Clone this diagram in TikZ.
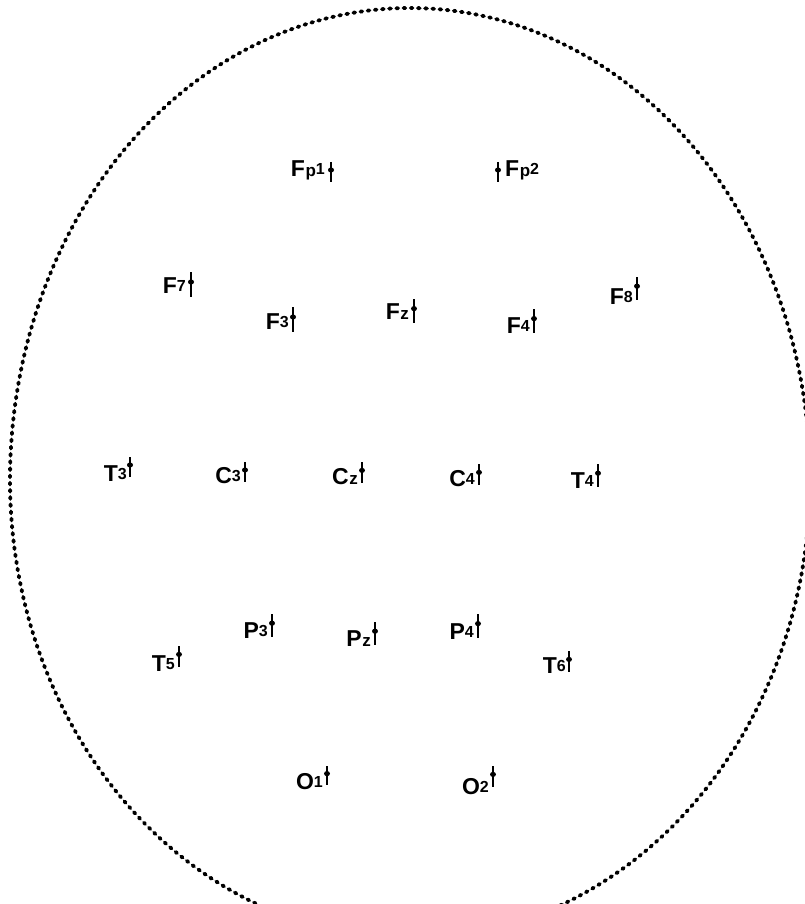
\documentclass[tikz,border=0pt]{standalone}
\usepackage{fontspec}
\setmainfont{Liberation Sans}
\newcommand\sfx[1]{{\fontsize{16}{18}\selectfont\raisebox{2pt}{#1}}}
\newcommand\sfz[1]{{\fontsize{17}{18}\selectfont\hspace{0.5pt}#1}}
\newcommand\elecmark[3]{%
  \draw[mk] (#1,#2) -- (#1,#3);
  \fill (#1,{#2+0.4*(#3-#2)}) ellipse (3pt and 2.6pt);}
\tikzset{
  lab/.style={inner sep=0pt, font=\fontsize{23}{26}\selectfont\bfseries},
  mk/.style={line width=2.2pt},
  outline/.style={line width=3.8pt, line cap=round, dash pattern=on 1.8pt off 5.4pt}
}
\begin{document}
\begin{tikzpicture}[x=1pt,y=-1pt]
\useasboundingbox (0,0) rectangle (805,904);
\begin{scope}
\clip (0,0) rectangle (805,904);
\draw[outline] plot[domain=0:360, samples=241, smooth]
  ({410+400*cos(\x)}, {480+(\x<180?459:472)*sin(\x)});
\end{scope}
% frontal pole
\node[lab, anchor=base east] (Fp1) at (325,177) {F\sfz{p}\sfx{1}};
\elecmark{331}{162}{182}
\node[lab, anchor=base west] (Fp2) at (505,177) {F\sfz{p}\sfx{2}};
\elecmark{498}{162}{182}
% frontal
\node[lab, anchor=base east] (F7) at (186,293) {F\sfx{7}};
\elecmark{191}{272}{297}
\node[lab, anchor=base east] (F3) at (289,329) {F\sfx{3}};
\elecmark{293}{307}{332}
\node[lab, anchor=base east] (Fz) at (409,319) {F\sfz{z}};
\elecmark{414}{299}{323}
\node[lab, anchor=base east] (F4) at (530,333) {F\sfx{4}};
\elecmark{534}{309}{333}
\node[lab, anchor=base east] (F8) at (633,304) {F\sfx{8}};
\elecmark{637}{277}{300}
% central / temporal
\node[lab, anchor=base east] (T3) at (127,481) {T\sfx{3}};
\elecmark{130}{457}{477}
\node[lab, anchor=base east] (C3) at (241,483) {C\sfx{3}};
\elecmark{245}{462}{482}
\node[lab, anchor=base east] (Cz) at (358,484) {C\sfz{z}};
\elecmark{362}{462}{483}
\node[lab, anchor=base east] (C4) at (475,486) {C\sfx{4}};
\elecmark{479}{464}{485}
\node[lab, anchor=base east] (T4) at (594,488) {T\sfx{4}};
\elecmark{598}{464}{487}
% parietal / temporal
\node[lab, anchor=base east] (T5) at (175,671) {T\sfx{5}};
\elecmark{179}{646}{667}
\node[lab, anchor=base east] (P3) at (268,638) {P\sfx{3}};
\elecmark{272}{614}{637}
\node[lab, anchor=base east] (Pz) at (371,646) {P\sfz{z}};
\elecmark{375}{622}{645}
\node[lab, anchor=base east] (P4) at (474,639) {P\sfx{4}};
\elecmark{478}{614}{638}
\node[lab, anchor=base east] (T6) at (566,673) {T\sfx{6}};
\elecmark{569}{651}{672}
% occipital
\node[lab, anchor=base east] (O1) at (323,789) {O\sfx{1}};
\elecmark{327}{766}{785}
\node[lab, anchor=base east] (O2) at (489,794) {O\sfx{2}};
\elecmark{493}{766}{787}
\end{tikzpicture}
\end{document}
